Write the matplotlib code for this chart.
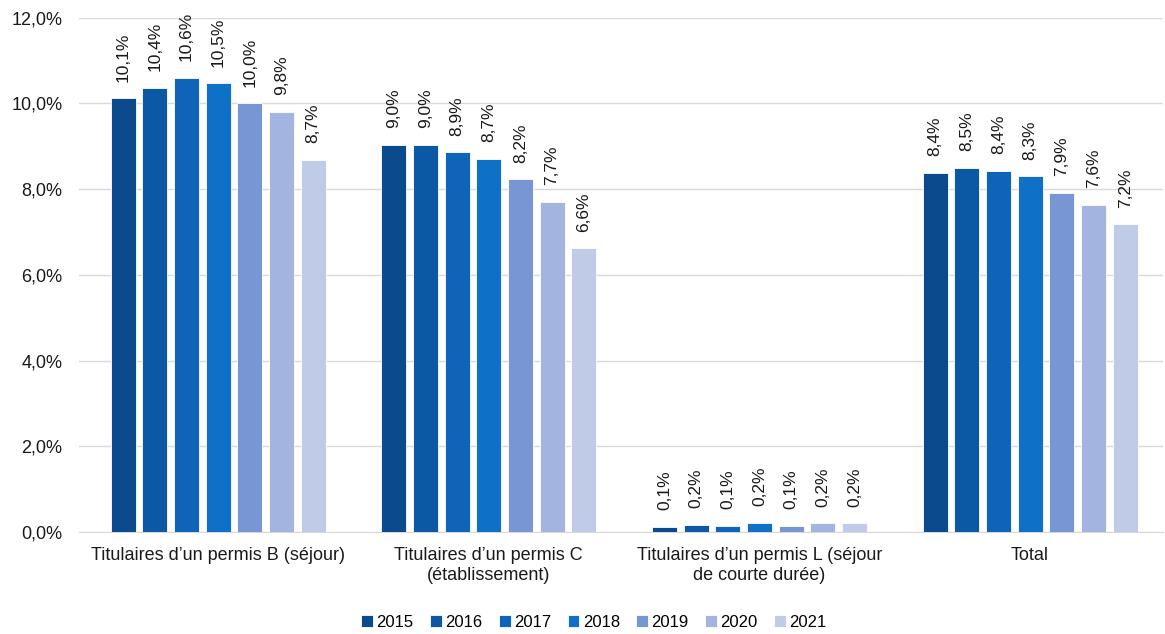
import matplotlib.pyplot as plt
import numpy as np
from matplotlib.ticker import FuncFormatter

plt.rcParams["font.family"] = ["Liberation Sans", "DejaVu Sans"]

categories = [
    "Titulaires d\u2019un permis B (séjour)",
    "Titulaires d\u2019un permis C\n(établissement)",
    "Titulaires d\u2019un permis L (séjour\nde courte durée)",
    "Total",
]
years = ["2015", "2016", "2017", "2018", "2019", "2020", "2021"]
colors = ["#0B4A8C", "#0B58A5", "#0D64B8", "#0F70C8", "#7896D4", "#A2B4DF", "#C0CBE8"]

# values in %, one list per year (B, C, L, Total)
v2015 = [10.12, 9.03, 0.12, 8.38]
v2016 = [10.36, 9.03, 0.17, 8.50]
v2017 = [10.60, 8.86, 0.14, 8.43]
v2018 = [10.47, 8.70, 0.21, 8.30]
v2019 = [10.00, 8.23, 0.14, 7.92]
v2020 = [9.80, 7.70, 0.20, 7.63]
v2021 = [8.68, 6.62, 0.20, 7.18]
series = [v2015, v2016, v2017, v2018, v2019, v2020, v2021]


def pct(v, _=None):
    return f"{v:.1f}%".replace(".", ",")


fig = plt.figure(figsize=(11.65, 6.34), dpi=100)
ax = fig.add_axes([0.0678, 0.161, 0.9305, 0.811])

x = np.arange(len(categories))
step = 0.117
width = 0.093
for i, (yr, vals, c) in enumerate(zip(years, series, colors)):
    pos = x + (i - 3) * step
    bars = ax.bar(pos, vals, width, color=c, edgecolor="white", linewidth=0.6,
                  label=yr, zorder=3)
    for b, v in zip(bars, vals):
        ax.annotate(pct(v), xy=(b.get_x() + b.get_width() / 2, v),
                    xytext=(0, 12), textcoords="offset points",
                    rotation=90, ha="center", va="bottom", fontsize=12.5,
                    color="#1a1a1a")

ax.set_ylim(0, 12)
ax.set_xlim(-0.514, 3.491)
ax.set_yticks(np.arange(0, 12.1, 2))
ax.yaxis.set_major_formatter(FuncFormatter(pct))
ax.set_xticks(x)
ax.set_xticklabels(categories, fontsize=13, color="#1a1a1a")
ax.tick_params(axis="y", labelsize=13, labelcolor="#1a1a1a", length=0, pad=12)
ax.tick_params(axis="x", length=0, pad=11)
ax.grid(True, axis="y", color="#D9D9D9", linewidth=1, zorder=0)
for s in ["top", "right", "left"]:
    ax.spines[s].set_visible(False)
ax.spines["bottom"].set_color("#D9D9D9")

ax.legend(loc="lower center", bbox_to_anchor=(0.475, -0.22), ncol=7, frameon=False,
          fontsize=12, handlelength=0.7, handleheight=0.7, handletextpad=0.2,
          columnspacing=1.0)

fig.savefig("out.png", dpi=100)
